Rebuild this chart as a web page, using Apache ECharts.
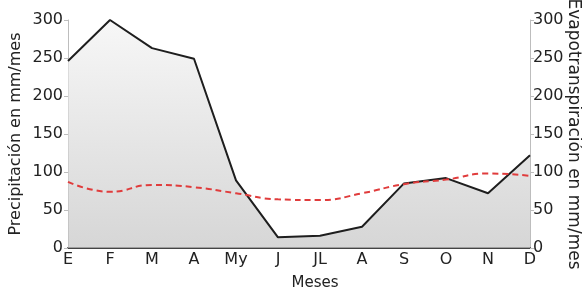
<!DOCTYPE html>
<html>
<head>
<meta charset="utf-8">
<script src="https://cdn.jsdelivr.net/npm/echarts@6/dist/echarts.min.js"></script>
<style>
  html, body { margin: 0; padding: 0; background: #fff; }
  #chart { width: 582px; height: 289px; }
</style>
</head>
<body>
<div id="chart"></div>
<script>
const meses = ["E", "F", "M", "A", "My", "J", "JL", "A", "S", "O", "N", "D"];
const precipitacion = [246, 300, 263, 249, 89, 14, 16, 28, 85, 92, 72, 122];
const evapotranspiracion = [87, 74, 83, 80, 72, 64, 63, 72, 84, 90, 98, 95];

const chart = echarts.init(document.getElementById("chart"));
const font = "DejaVu Sans";

const yAxisBase = {
  type: "value",
  min: 0,
  max: 300,
  interval: 50,
  nameLocation: "middle",
  nameMoveOverlap: false,
  splitLine: { show: false },
  axisLine: { show: true, lineStyle: { color: "#bdbdbd", width: 1 } },
  axisTick: { show: true, length: 4, lineStyle: { color: "#bdbdbd" } },
  axisLabel: { color: "#222", fontSize: 16, fontFamily: font }
};

chart.setOption({
  animation: false,
  grid: { left: 68, right: 52, top: 20, bottom: 41, outerBoundsMode: "none", containLabel: false },
  xAxis: {
    type: "category",
    data: meses,
    boundaryGap: false,
    name: "Meses",
    nameLocation: "middle",
    nameGap: 28,
    nameMoveOverlap: false,
    nameTextStyle: { color: "#222", fontSize: 15, fontFamily: font, padding: [0, 0, 0, 32] },
    axisLine: { lineStyle: { color: "#444", width: 2 } },
    axisTick: { show: false },
    axisLabel: { color: "#222", fontSize: 16, fontFamily: font, margin: 4, interval: 0 }
  },
  yAxis: [
    Object.assign({}, yAxisBase, {
      name: "Precipitación en mm/mes",
      nameGap: 44,
      nameTextStyle: { color: "#222", fontSize: 16, fontFamily: font },
      axisLabel: Object.assign({}, yAxisBase.axisLabel, { margin: 5 })
    }),
    Object.assign({}, yAxisBase, {
      position: "right",
      name: "Evapotranspiración en mm/mes",
      nameGap: 35,
      nameRotate: -90,
      nameTextStyle: { color: "#222", fontSize: 17, fontFamily: font },
      axisLabel: Object.assign({}, yAxisBase.axisLabel, { margin: 3 })
    })
  ],
  series: [
    {
      name: "Precipitación",
      type: "line",
      data: precipitacion,
      symbol: "none",
      lineStyle: { color: "#1e1e1e", width: 2 },
      areaStyle: {
        color: new echarts.graphic.LinearGradient(0, 0, 0, 1, [
          { offset: 0, color: "#f3f3f3" },
          { offset: 1, color: "#c4c4c4" }
        ])
      },
      z: 2
    },
    {
      name: "Evapotranspiración",
      type: "line",
      data: evapotranspiracion,
      smooth: true,
      symbol: "none",
      lineStyle: { color: "#e03c3c", width: 2, type: [6, 4] },
      z: 3
    }
  ]
});
</script>
</body>
</html>
